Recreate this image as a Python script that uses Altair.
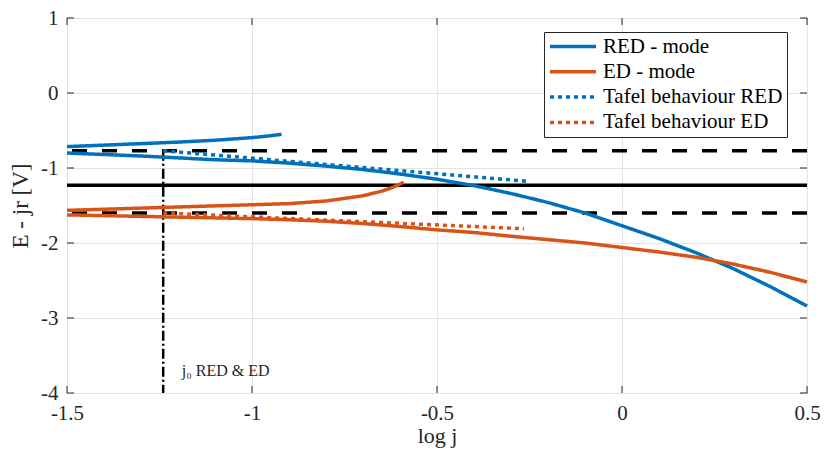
import altair as alt
import pandas as pd

# ---------------- data ----------------
series_names = ["RED - mode", "ED - mode", "Tafel behaviour RED", "Tafel behaviour ED"]
series_colors = ["#0072BD", "#D95319", "#0072BD", "#D95319"]
series_dashes = [[1, 0], [1, 0], [4, 4], [4, 4]]

red_upper_x = [-1.5, -1.4, -1.3, -1.2, -1.1, -1.0, -0.95, -0.92]
red_upper_y = [-0.715, -0.695, -0.675, -0.655, -0.63, -0.595, -0.57, -0.55]

red_lower_x = [-1.5, -1.4, -1.3, -1.2, -1.1, -1.0, -0.9, -0.8, -0.7, -0.6, -0.5,
               -0.4, -0.3, -0.2, -0.1, 0.0, 0.1, 0.2, 0.3, 0.4, 0.5]
red_lower_y = [-0.80, -0.82, -0.84, -0.865, -0.89, -0.905, -0.935, -0.975, -1.02, -1.08, -1.15,
               -1.235, -1.34, -1.46, -1.60, -1.77, -1.94, -2.13, -2.34, -2.58, -2.84]

ed_upper_x = [-1.5, -1.4, -1.3, -1.2, -1.1, -1.0, -0.9, -0.8, -0.7, -0.65, -0.62, -0.59]
ed_upper_y = [-1.565, -1.55, -1.535, -1.52, -1.505, -1.49, -1.475, -1.44, -1.37, -1.31, -1.26, -1.19]

ed_lower_x = [-1.5, -1.4, -1.3, -1.2, -1.1, -1.0, -0.9, -0.8, -0.7, -0.6, -0.5,
              -0.4, -0.3, -0.2, -0.1, 0.0, 0.1, 0.2, 0.3, 0.4, 0.5]
ed_lower_y = [-1.625, -1.635, -1.645, -1.655, -1.665, -1.675, -1.69, -1.71, -1.74, -1.78, -1.825,
              -1.86, -1.91, -1.955, -2.0, -2.06, -2.12, -2.19, -2.28, -2.39, -2.52]

tafel_red_x = [-1.24, -0.25]
tafel_red_y = [-0.77, -1.18]
tafel_ed_x = [-1.24, -0.265]
tafel_ed_y = [-1.60, -1.81]

dashed_levels = [-0.77, -1.60]
solid_levels = [-1.23]

j0_x = [-1.24]
j0_top = [-0.77]
j0_bottom = [-4.0]

note_x = [-1.19]
note_y = [-3.77]
note_text = ["j\u2080 RED & ED"]

x_ticks = [-1.5, -1.0, -0.5, 0.0, 0.5]
y_ticks = [-4, -3, -2, -1, 0, 1]

# ---------------- build tables ----------------
rows = []
def add(name, branch, xs, ys):
    for i, (a, b) in enumerate(zip(xs, ys)):
        rows.append({"x": a, "y": b, "series": name, "branch": branch, "idx": i})

add("RED - mode", "red_up", red_upper_x, red_upper_y)
add("RED - mode", "red_low", red_lower_x, red_lower_y)
add("ED - mode", "ed_up", ed_upper_x, ed_upper_y)
add("ED - mode", "ed_low", ed_lower_x, ed_lower_y)
add("Tafel behaviour RED", "t_red", tafel_red_x, tafel_red_y)
add("Tafel behaviour ED", "t_ed", tafel_ed_x, tafel_ed_y)
curves_df = pd.DataFrame(rows)

SERIF = "Liberation Serif"
FRAME = "#262626"

x_scale = alt.Scale(domain=[-1.5, 0.5], nice=False, zero=False)
y_scale = alt.Scale(domain=[-4, 1], nice=False, zero=False)

x_axis = alt.Axis(values=x_ticks, labelExpr="'' + datum.value", title="log j",
                  grid=True, labelFlush=False, labelOverlap=False, labelPadding=9,
                  labelFont=SERIF, labelFontSize=21, titleFont=SERIF, titleFontSize=22,
                  titleY=49, titleBaseline="alphabetic")
y_axis = alt.Axis(values=y_ticks, labelExpr="'' + datum.value", title="E - jr [V]",
                  grid=True, labelPadding=9, labelFont=SERIF, labelFontSize=21,
                  titleFont=SERIF, titleX=-40, titleY=187.5,
                  titleBaseline="alphabetic", titleAngle=270)

def X(field="x"):
    return alt.X(f"{field}:Q", scale=x_scale, axis=x_axis, title="log j")

def Y(field="y"):
    return alt.Y(f"{field}:Q", scale=y_scale, axis=y_axis, title="E - jr [V]")

legend = alt.Legend(title=None, orient="none", legendX=477, legendY=14,
                    symbolType="stroke", symbolSize=2116, symbolStrokeWidth=3.5,
                    clipHeight=21, labelOffset=5,
                    labelFont=SERIF, labelFontSize=21, labelColor="black",
                    padding=4, rowPadding=3.3, labelLimit=400,
                    fillColor="white", strokeColor=FRAME)

dashed_rules = alt.Chart(pd.DataFrame({"y": dashed_levels})).mark_rule(
    color="black", strokeWidth=3.5, strokeDash=[15, 15]).encode(y=Y())
solid_rules = alt.Chart(pd.DataFrame({"y": solid_levels})).mark_rule(
    color="black", strokeWidth=3.5).encode(y=Y())

j0_rule = alt.Chart(pd.DataFrame({"x": j0_x, "y": j0_top, "y2": j0_bottom})).mark_rule(
    color="black", strokeWidth=2.5, strokeDash=[10, 3, 2, 3]).encode(
    x=X(), y=Y(), y2="y2:Q")

curves = alt.Chart(curves_df).mark_line(strokeWidth=3.5, strokeCap="butt").encode(
    x=X(), y=Y(),
    color=alt.Color("series:N", scale=alt.Scale(domain=series_names, range=series_colors), legend=legend),
    strokeDash=alt.StrokeDash("series:N", scale=alt.Scale(domain=series_names, range=series_dashes), legend=legend),
    detail="branch:N",
    order="idx:Q",
)

note = alt.Chart(pd.DataFrame({"x": note_x, "y": note_y, "t": note_text})).mark_text(
    align="left", baseline="alphabetic", font=SERIF, fontSize=16, color="#262626").encode(
    x=X(), y=Y(), text="t:N")

xt = pd.DataFrame({"x": x_ticks})
yt = pd.DataFrame({"y": y_ticks})
tick_style = dict(color=FRAME, strokeWidth=1)
ticks_bottom = alt.Chart(xt).mark_rule(**tick_style).encode(x=X(), y=alt.value(375), y2=alt.value(368))
ticks_top = alt.Chart(xt).mark_rule(**tick_style).encode(x=X(), y=alt.value(0), y2=alt.value(7))
ticks_left = alt.Chart(yt).mark_rule(**tick_style).encode(y=Y(), x=alt.value(0), x2=alt.value(7))
ticks_right = alt.Chart(yt).mark_rule(**tick_style).encode(y=Y(), x=alt.value(740), x2=alt.value(733))

chart = alt.layer(
    dashed_rules, solid_rules, j0_rule, curves, note,
    ticks_bottom, ticks_top, ticks_left, ticks_right,
).properties(
    width=740, height=375,
    autosize=alt.AutoSizeParams(type="none"),
    padding={"left": 67, "top": 18, "right": 17, "bottom": 69},
    background="white",
).configure(
    font=SERIF,
).configure_view(
    stroke=FRAME, strokeWidth=1,
).configure_axis(
    domain=False, tickSize=0, gridColor="#e4e4e4", gridWidth=1,
    labelFont=SERIF, labelFontSize=21, labelColor=FRAME,
    titleFont=SERIF, titleFontSize=23, titleColor=FRAME, titleFontWeight="normal",
).configure_legend(
    labelFont=SERIF,
)

chart.save("out.html", embed_options={"renderer": "svg", "actions": False})
